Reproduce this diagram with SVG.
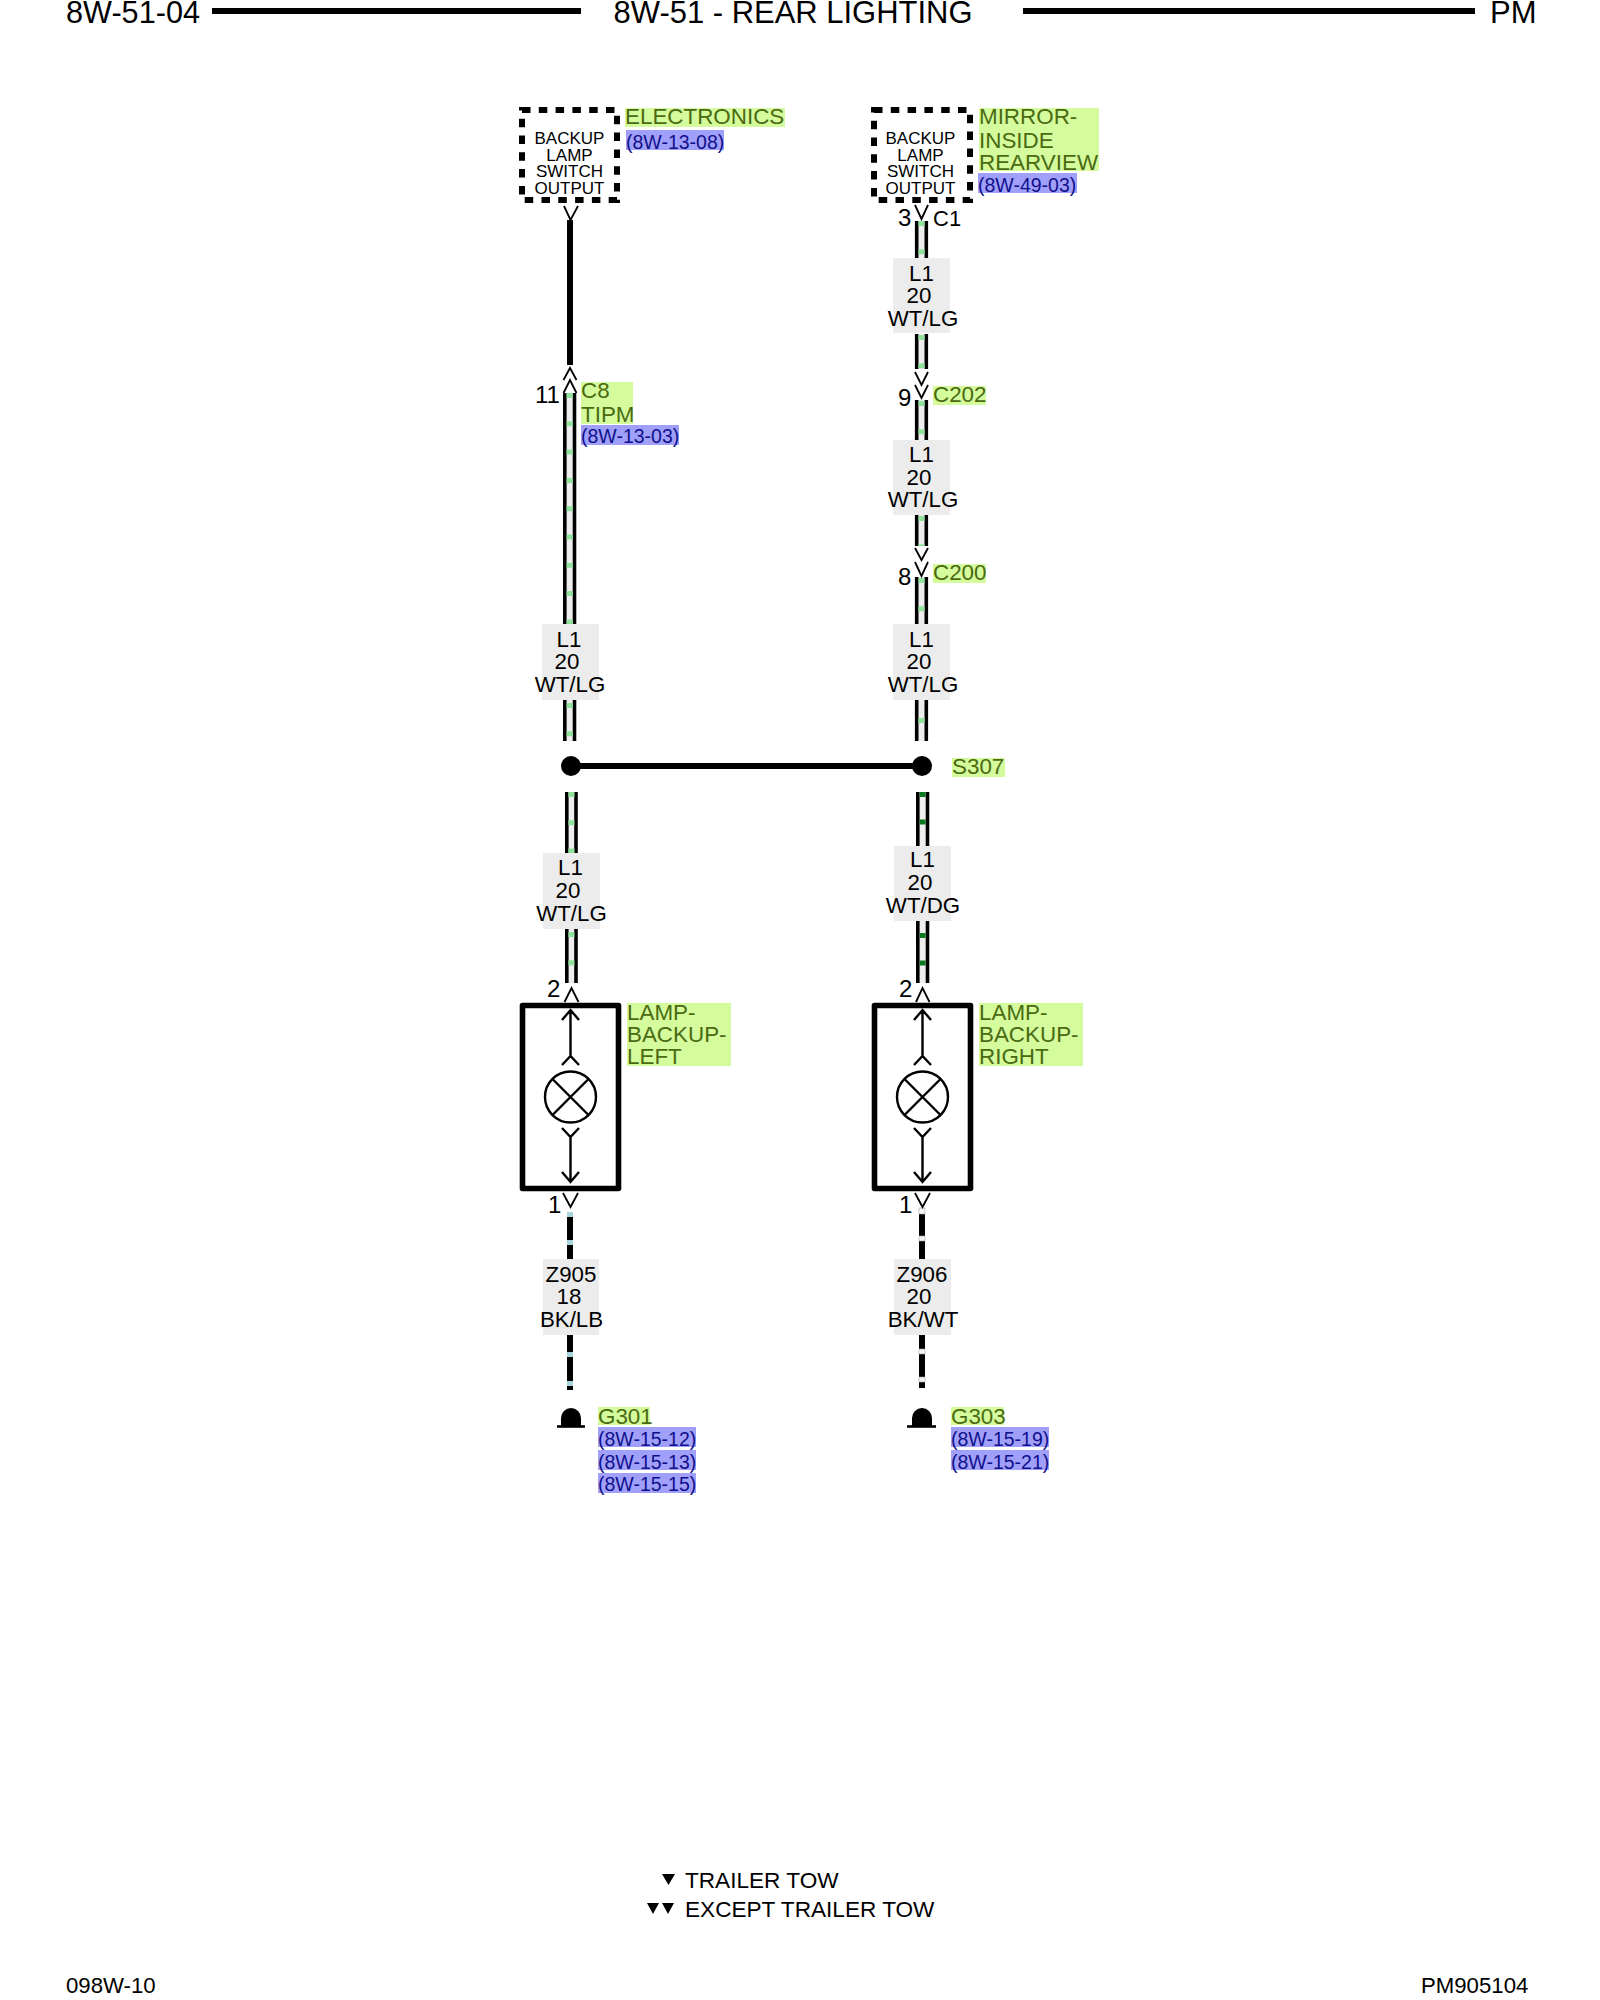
<svg xmlns="http://www.w3.org/2000/svg" width="1600" height="2000" viewBox="0 0 1600 2000">
<style>
text{font-family:"Liberation Sans",Arial,sans-serif;fill:#000}
.h{font-size:31px}
.f{font-size:22.6px}
.s{font-size:22.2px}
.b{font-size:17px;text-anchor:middle}
.w{font-size:22.3px;text-anchor:middle}
.p{font-size:24px}
.c{font-size:22px}
.n{font-size:22.4px;fill:#4a6a12}
.r{font-size:19.5px;fill:#10108a}
.gb{fill:#d4fb9c}
.bb{fill:#a0a0fb}
.lb{fill:#ececec}
.rule{stroke:#000;stroke-width:6;fill:none}
.chev{stroke:#000;stroke-width:1.8;fill:none}
.core{stroke:#eee;fill:none;stroke-width:8}
.rail{stroke:#000;stroke-width:3.6;fill:none}
.lg{stroke:#8fe39a;stroke-width:6;stroke-dasharray:5 23.3;fill:none}
.dg{stroke:#0b7a1e;stroke-width:6;stroke-dasharray:5 22.6;fill:none}
.solid{stroke:#000;stroke-width:6;fill:none}
.dash{fill:none;stroke:#000;stroke-width:6;stroke-dasharray:8.5 8.3}
.lamp{fill:#fff;stroke:#000;stroke-width:5.6;stroke-linejoin:round}
.sym{fill:none;stroke:#000;stroke-width:2.4}
</style>

<g id="page-header">
<text class="h" x="66" y="23" textLength="134" lengthAdjust="spacingAndGlyphs">8W-51-04</text>
<line class="rule" x1="212" y1="11" x2="581" y2="11"/>
<text class="h" x="613.500" y="23" textLength="359" lengthAdjust="spacingAndGlyphs">8W-51 - REAR LIGHTING</text>
<line class="rule" x1="1023" y1="11" x2="1475" y2="11"/>
<text class="h" x="1490" y="23">PM</text>
</g>

<g id="connectors">
<path class="solid" d="M570 220V365"/>
<path class="core" d="M569.700 393V624M569.700 700V741M921.500 221V258M921.500 334V369M921.500 400V440M921.500 515V546M921.500 577V624M921.500 700V741M571.400 792V853M571.400 929V983M922.600 792V846M922.600 921V983"/>
<path class="rail" d="M564.800 393V624M574.500 393V624M564.800 700V741M574.500 700V741M916.700 221V258M926.300 221V258M916.700 334V369M926.300 334V369M916.700 400V440M926.300 400V440M916.700 515V546M926.300 515V546M916.700 577V624M926.300 577V624M916.700 700V741M926.300 700V741M566.800 792V853M576 792V853M566.800 929V983M576 929V983M917.800 792V846M927.500 792V846M917.800 921V983M927.500 921V983"/>
<path class="lg" d="M569.700 393V624M569.700 703V741M921.500 221V258M921.500 335V369M921.500 401V440M921.500 516V546M921.500 578V624M921.500 718V741M571.400 792V853M571.400 932V983"/>
<path class="dg" d="M922.600 792V846M922.600 933V983"/>
<path class="solid" d="M571 766H922"/>
<path class="solid" d="M570 1212V1390M922 1208V1388"/>
<path fill="#a8d4dc" d="M567 1212h6v5h-6zM567 1240h6v5h-6zM567 1352h6v5h-6zM567 1381h6v5h-6z"/>
<path fill="#f4f4f4" stroke="#aaa" stroke-width=".6" d="M919 1208h6v6h-6zM919 1236h6v5h-6zM919 1349h6v5h-6zM919 1377h6v5h-6z"/>
<path class="chev" d="M564 206L570.500 220L578 206M563.500 380L570 368L576.500 380M563.500 393L570 380L576.500 393M915 205L921.500 219L928 205M915 372L921.500 385L928 372M915 385L921.500 398L928 385M915 548L921.500 560L928 548M915 562L921.500 576L928 562M564.500 1002L571.500 988L578.500 1002M916 1002L922.500 988L929.500 1002M563 1193L570.500 1207L578 1193M915 1193L922.500 1207L930 1193"/>
</g>

<g id="electronics">
<rect class="dash" x="522" y="110" width="95" height="90"/>
<text class="b" x="569.500" y="144">BACKUP</text>
<text class="b" x="569.500" y="161">LAMP</text>
<text class="b" x="569.500" y="177">SWITCH</text>
<text class="b" x="569.500" y="194">OUTPUT</text>
<rect class="gb" x="625" y="108" width="160" height="19"/>
<text class="n" x="625" y="124">ELECTRONICS</text>
<rect class="bb" x="626" y="130" width="98" height="20"/>
<text class="r" x="626" y="148.500">(8W-13-08)</text>
</g>

<g id="mirror">
<rect class="dash" x="874" y="110" width="96" height="90"/>
<text class="b" x="920.500" y="144">BACKUP</text>
<text class="b" x="920.500" y="161">LAMP</text>
<text class="b" x="920.500" y="177">SWITCH</text>
<text class="b" x="920.500" y="194">OUTPUT</text>
<rect class="gb" x="979" y="108" width="120" height="63"/>
<text class="n" x="979" y="124">MIRROR-</text>
<text class="n" x="979" y="148">INSIDE</text>
<text class="n" x="979" y="170">REARVIEW</text>
<rect class="bb" x="978" y="173" width="99" height="20"/>
<text class="r" x="978" y="191.500">(8W-49-03)</text>
<text class="p" x="898" y="226">3</text>
<text class="c" x="933" y="226">C1</text>
</g>

<g id="c8">
<text class="p" x="535" y="403">11</text>
<rect class="gb" x="581" y="382" width="52" height="42"/>
<text class="n" x="581" y="398">C8</text>
<text class="n" x="581" y="422">TIPM</text>
<rect class="bb" x="581" y="425" width="98" height="20"/>
<text class="r" x="581" y="443">(8W-13-03)</text>
</g>

<g id="c202">
<text class="p" x="898" y="406">9</text>
<rect class="gb" x="933" y="386" width="53" height="19"/>
<text class="n" x="933" y="402">C202</text>
</g>

<g id="c200">
<text class="p" x="898" y="585">8</text>
<rect class="gb" x="933" y="564" width="53" height="19"/>
<text class="n" x="933" y="580">C200</text>
</g>

<g id="wire-label-r1">
<rect class="lb" x="893" y="258" width="57" height="75"/>
<text class="w" x="921.500" y="281">L1</text><text class="w" x="919" y="303">20</text><text class="w" x="923" y="326">WT/LG</text>
</g>
<g id="wire-label-r2">
<rect class="lb" x="893" y="440" width="57" height="75"/>
<text class="w" x="921.500" y="462">L1</text><text class="w" x="919" y="485">20</text><text class="w" x="923" y="507">WT/LG</text>
</g>
<g id="wire-label-r3">
<rect class="lb" x="893" y="624" width="57" height="76"/>
<text class="w" x="921.500" y="647">L1</text><text class="w" x="919" y="669">20</text><text class="w" x="923" y="692">WT/LG</text>
</g>
<g id="wire-label-l1">
<rect class="lb" x="542" y="624" width="57" height="76"/>
<text class="w" x="569" y="647">L1</text><text class="w" x="567" y="669">20</text><text class="w" x="570" y="692">WT/LG</text>
</g>

<g id="s307">
<circle cx="571" cy="766" r="10"/>
<circle cx="922" cy="766" r="10"/>
<rect class="gb" x="952" y="758" width="53" height="19"/>
<text class="n" x="952" y="774">S307</text>
</g>

<g id="wire-label-l2">
<rect class="lb" x="543" y="853" width="57" height="76"/>
<text class="w" x="570.500" y="875">L1</text><text class="w" x="568" y="898">20</text><text class="w" x="571.500" y="921">WT/LG</text>
</g>
<g id="wire-label-r4">
<rect class="lb" x="894" y="846" width="57" height="75"/>
<text class="w" x="922.500" y="867">L1</text><text class="w" x="920" y="890">20</text><text class="w" x="923" y="913">WT/DG</text>
</g>

<g id="lamp-left">
<text class="p" x="547" y="997">2</text>
<rect class="lamp" x="522.500" y="1005.500" width="96" height="183"/>
<path class="sym" d="M562 1020L570.500 1010L579 1020M570.500 1010V1056M562 1065L570.500 1056L579 1065M562 1128L570.500 1137L579 1128M570.500 1137V1182M562 1172L570.500 1182L579 1172"/>
<circle class="sym" cx="570.500" cy="1097" r="25.500" stroke-width="2.800"/>
<path class="sym" d="M552.500 1079L588.500 1115M588.500 1079L552.500 1115"/>
<rect class="gb" x="627" y="1003" width="104" height="63"/>
<text class="n" x="627" y="1020">LAMP-</text>
<text class="n" x="627" y="1042">BACKUP-</text>
<text class="n" x="627" y="1064">LEFT</text>
<text class="p" x="548" y="1213">1</text>
</g>

<g id="lamp-right">
<text class="p" x="899" y="997">2</text>
<rect class="lamp" x="874.500" y="1005.500" width="96" height="183"/>
<path class="sym" d="M914 1020L922.500 1010L931 1020M922.500 1010V1056M914 1065L922.500 1056L931 1065M914 1128L922.500 1137L931 1128M922.500 1137V1182M914 1172L922.500 1182L931 1172"/>
<circle class="sym" cx="922.500" cy="1097" r="25.500" stroke-width="2.800"/>
<path class="sym" d="M904.500 1079L940.500 1115M940.500 1079L904.500 1115"/>
<rect class="gb" x="979" y="1003" width="104" height="63"/>
<text class="n" x="979" y="1020">LAMP-</text>
<text class="n" x="979" y="1042">BACKUP-</text>
<text class="n" x="979" y="1064">RIGHT</text>
<text class="p" x="899" y="1213">1</text>
</g>

<g id="wire-label-z905">
<rect class="lb" x="543" y="1259" width="56" height="76"/>
<text class="w" x="571" y="1282">Z905</text><text class="w" x="569" y="1304">18</text><text class="w" x="571.500" y="1327">BK/LB</text>
</g>
<g id="wire-label-z906">
<rect class="lb" x="894" y="1259" width="57" height="76"/>
<text class="w" x="922" y="1282">Z906</text><text class="w" x="919" y="1304">20</text><text class="w" x="923" y="1327">BK/WT</text>
</g>

<g id="g301">
<path d="M561 1426v-8a10 10 0 0 1 20 0v8z"/>
<line x1="557" y1="1426.500" x2="585" y2="1426.500" stroke="#000" stroke-width="2.600"/>
<rect class="gb" x="598" y="1407" width="52" height="18"/>
<text class="n" x="598" y="1423.500">G301</text>
<rect class="bb" x="598" y="1427" width="98" height="20"/>
<text class="r" x="598" y="1446">(8W-15-12)</text>
<rect class="bb" x="598" y="1450" width="98" height="20"/>
<text class="r" x="598" y="1469">(8W-15-13)</text>
<rect class="bb" x="598" y="1473" width="98" height="20"/>
<text class="r" x="598" y="1491">(8W-15-15)</text>
</g>

<g id="g303">
<path d="M912 1426v-8a10 10 0 0 1 20 0v8z"/>
<line x1="907" y1="1426.500" x2="936" y2="1426.500" stroke="#000" stroke-width="2.600"/>
<rect class="gb" x="951" y="1407" width="53" height="18"/>
<text class="n" x="951" y="1423.500">G303</text>
<rect class="bb" x="951" y="1427" width="98" height="20"/>
<text class="r" x="951" y="1446">(8W-15-19)</text>
<rect class="bb" x="951" y="1450" width="98" height="20"/>
<text class="r" x="951" y="1469">(8W-15-21)</text>
</g>

<g id="legend">
<path d="M662 1874h13l-6.500 11zM647 1903h12l-6 11zM662 1903h12l-6 11z"/>
<text class="f" x="685" y="1888">TRAILER TOW</text>
<text class="f" x="685" y="1917">EXCEPT TRAILER TOW</text>
</g>

<g id="page-footer">
<text class="s" x="66" y="1993">098W-10</text>
<text class="s" x="1421" y="1993">PM905104</text>
</g>
</svg>
